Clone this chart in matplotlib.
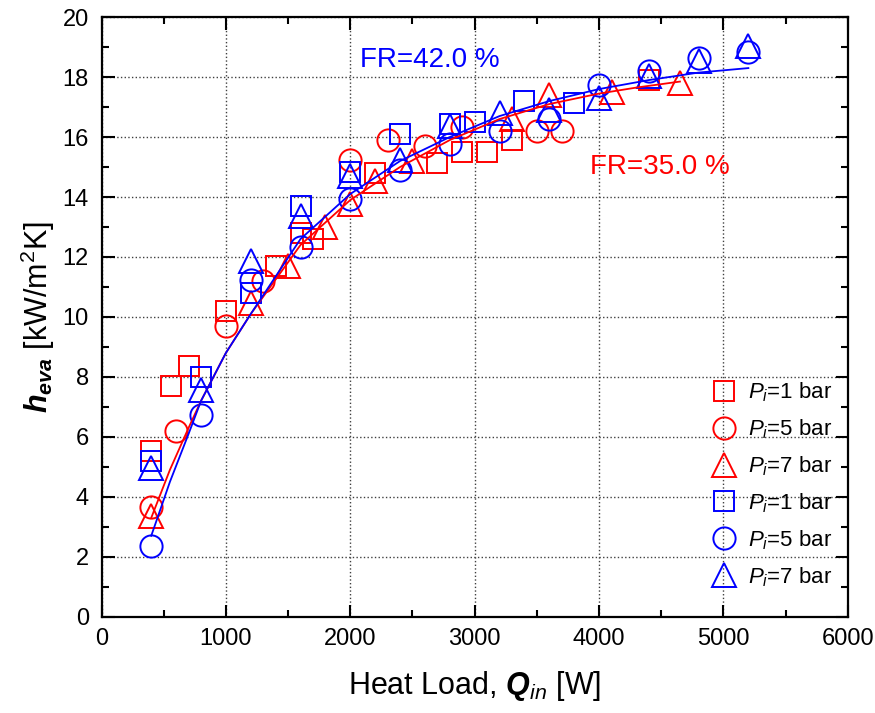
import matplotlib
matplotlib.use("Agg")
import matplotlib.pyplot as plt
from matplotlib.ticker import MultipleLocator

plt.rcParams["font.family"] = ["Liberation Sans", "DejaVu Sans"]
plt.rcParams["mathtext.fontset"] = "custom"
plt.rcParams["mathtext.rm"] = "Liberation Sans"
plt.rcParams["mathtext.it"] = "Liberation Sans:italic"
plt.rcParams["mathtext.bf"] = "Liberation Sans:bold"
plt.rcParams["mathtext.bfit"] = "Liberation Sans:bold:italic"

# FR = 35.0 % (red)
r1_q = [400, 560, 700, 1000, 1400, 1600, 1700, 2200, 2700, 2900, 3100, 3300, 4400]
r1_h = [5.53, 7.7, 8.35, 10.2, 11.7, 12.8, 12.6, 14.8, 15.15, 15.5, 15.5, 15.9, 17.9]
r5_q = [400, 600, 1000, 1300, 2000, 2300, 2600, 2900, 3500, 3700]
r5_h = [3.65, 6.2, 9.7, 11.2, 15.25, 15.9, 15.7, 16.35, 16.2, 16.2]
r7_q = [400, 1200, 1500, 1800, 2000, 2200, 2500, 3300, 3600, 4100, 4650]
r7_h = [3.37, 10.45, 11.7, 13.0, 13.75, 14.55, 15.2, 16.6, 17.4, 17.5, 17.8]

# FR = 42.0 % (blue)
b1_q = [400, 800, 1200, 1600, 2000, 2400, 2800, 3000, 3400, 3800]
b1_h = [5.2, 8.0, 10.8, 13.7, 14.85, 16.1, 16.45, 16.5, 17.2, 17.15]
b5_q = [400, 800, 1200, 1600, 2000, 2400, 2800, 3200, 3600, 4000, 4400, 4800, 5200]
b5_h = [2.37, 6.73, 11.23, 12.33, 13.93, 14.9, 15.77, 16.2, 16.6, 17.75, 18.2, 18.63, 18.85]
b7_q = [400, 800, 1200, 1600, 2000, 2400, 2800, 3200, 3600, 4000, 4400, 4800, 5200]
b7_h = [4.97, 7.57, 11.87, 13.37, 14.7, 15.23, 16.37, 16.8, 16.9, 17.3, 18.05, 18.55, 19.05]

# fitted curves
red_fit_q = [400, 550, 700, 800, 1000, 1200, 1600, 2000, 2400, 2800, 3200, 3600, 4000, 4300, 4650]
red_fit_h = [3.3, 4.9, 6.3, 7.2, 8.8, 10.1, 12.4, 13.9, 15.0, 15.9, 16.6, 17.1, 17.45, 17.65, 17.85]
blue_fit_q = [400, 550, 700, 800, 1000, 1200, 1600, 2000, 2400, 2800, 3200, 3600, 4000, 4400, 4800, 5200]
blue_fit_h = [2.7, 4.5, 6.1, 7.2, 8.8, 10.1, 12.6, 14.1, 15.2, 16.0, 16.7, 17.2, 17.6, 17.9, 18.15, 18.3]

RED = "#ff0000"
BLUE = "#0000ff"

fig = plt.figure(figsize=(8.75, 7.13), dpi=100)
ax = fig.add_axes([0.116, 0.135, 0.853, 0.841])

mk = dict(ls="none", mfc="none", mew=1.4)
series = [
    (r1_q, r1_h, "s", 14, RED, "1"),
    (r5_q, r5_h, "o", 16, RED, "5"),
    (r7_q, r7_h, "^", 17, RED, "7"),
    (b1_q, b1_h, "s", 14, BLUE, "1"),
    (b5_q, b5_h, "o", 16, BLUE, "5"),
    (b7_q, b7_h, "^", 17, BLUE, "7"),
]
for q, h, m, ms, c, p in series:
    ax.plot(q, h, marker=m, ms=ms, mec=c, label=r"$\mathit{P}_{\mathit{i}}$=%s bar" % p, **mk)

ax.plot(red_fit_q, red_fit_h, color=RED, lw=1.3)
ax.plot(blue_fit_q, blue_fit_h, color=BLUE, lw=1.3)

ax.text(2640, 18.57, "FR=42.0 %", color=BLUE, fontsize=20, ha="center", va="center")
ax.text(4490, 15.0, "FR=35.0 %", color=RED, fontsize=20, ha="center", va="center")

ax.set_xlim(0, 6000)
ax.set_ylim(0, 20)
ax.xaxis.set_major_locator(MultipleLocator(1000))
ax.xaxis.set_minor_locator(MultipleLocator(500))
ax.yaxis.set_major_locator(MultipleLocator(2))
ax.yaxis.set_minor_locator(MultipleLocator(1))
ax.tick_params(which="both", direction="in", top=True, right=True, width=1.5, labelsize=17)
ax.tick_params(which="major", length=9)
ax.tick_params(which="minor", length=5)
ax.tick_params(axis="x", pad=8)
ax.tick_params(axis="y", pad=9)
for s in ax.spines.values():
    s.set_linewidth(1.6)
ax.grid(True, which="major", ls=":", color="0.25", lw=1.0)

ax.set_xlabel(r"Heat Load, $\mathbfit{Q}_{\mathit{in}}$ [W]", fontsize=22, labelpad=14)
ax.set_ylabel(r"$\mathbfit{h}_{\mathbfit{eva}}$ [kW/m$^2$K]", fontsize=22, labelpad=4)

ax.legend(loc="upper right", bbox_to_anchor=(1.0, 0.42), frameon=False, fontsize=16,
          handlelength=1.2, handletextpad=0.5, labelspacing=0.6, borderaxespad=0.3,
          numpoints=1)

fig.savefig("out.png", dpi=100)
